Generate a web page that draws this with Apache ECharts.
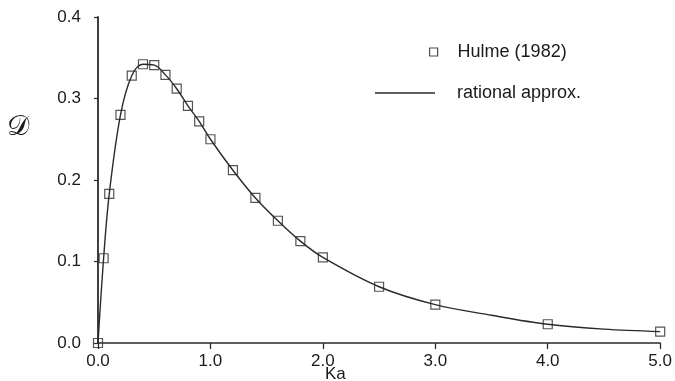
<!DOCTYPE html>
<html>
<head>
<meta charset="utf-8">
<script src="https://cdn.jsdelivr.net/npm/echarts@6/dist/echarts.min.js"></script>
<style>
html,body{margin:0;padding:0;background:#fff;}
#chart{width:675px;height:381px;}
</style>
</head>
<body>
<div id="chart"></div>
<script>
// Hulme (1982) data points (Ka, D)
var hulmeKa = [0.0, 0.05, 0.1, 0.2, 0.3, 0.4, 0.5, 0.6, 0.7, 0.8, 0.9, 1.0, 1.2, 1.4, 1.6, 1.8, 2.0, 2.5, 3.0, 4.0, 5.0];
var hulmeD  = [0.0, 0.104, 0.183, 0.280, 0.328, 0.342, 0.341, 0.329, 0.312, 0.291, 0.272, 0.250, 0.212, 0.178, 0.150, 0.125, 0.105, 0.069, 0.047, 0.023, 0.014];

// rational approximation curve
var curveKa = [0.0, 0.05, 0.1, 0.2, 0.3, 0.4, 0.5, 0.6, 0.7, 0.8, 0.9, 1.0, 1.2, 1.4, 1.6, 1.8, 2.0, 2.5, 3.0, 3.5, 4.0, 4.5, 5.0];
var curveD  = [0.0, 0.104, 0.183, 0.280, 0.328, 0.342, 0.341, 0.329, 0.312, 0.291, 0.272, 0.250, 0.212, 0.178, 0.150, 0.125, 0.105, 0.069, 0.047, 0.034, 0.023, 0.017, 0.014];

var xTicks = [0, 1, 2, 3, 4, 5];
var yTicks = [0, 0.1, 0.2, 0.3, 0.4];

var seriesNames = ['Hulme (1982)', 'rational approx.'];
var xTitle = 'Ka';
var yTitle = '\uD835\uDC9F';

function pairs(xs, ys){ return xs.map(function(x,i){ return [x, ys[i]]; }); }

var chart = echarts.init(document.getElementById('chart'), null, {renderer:'canvas'});
var font = 'Liberation Sans, Arial, Helvetica, sans-serif';
chart.setOption({
  animation:false,
  backgroundColor:'#fff',
  grid:{left:98, right:12, top:17, bottom:38, containLabel:false},
  xAxis:{
    type:'value', min:xTicks[0], max:xTicks[xTicks.length-1], interval:1,
    axisLine:{show:true, onZero:false, lineStyle:{color:'#2a2a2a', width:1.5}},
    axisTick:{show:true, inside:false, length:6, lineStyle:{color:'#2a2a2a', width:1.3}},
    axisLabel:{formatter:function(v){return v.toFixed(1);}, fontSize:17, color:'#1a1a1a', fontFamily:font, margin:10},
    splitLine:{show:false}
  },
  yAxis:{
    type:'value', min:yTicks[0], max:yTicks[yTicks.length-1], interval:0.1,
    axisLine:{show:true, onZero:false, lineStyle:{color:'#2a2a2a', width:1.8}},
    axisTick:{show:true, inside:false, length:4, lineStyle:{color:'#2a2a2a', width:1.2}},
    axisLabel:{formatter:function(v){return v.toFixed(1);}, fontSize:17, color:'#1a1a1a', fontFamily:font, margin:17},
    splitLine:{show:false}
  },
  legend:[
    {
      data:[seriesNames[0]], left:429, top:43, padding:0, itemWidth:8, itemHeight:8,
      itemStyle:{color:'rgba(0,0,0,0)', borderColor:'#222', borderWidth:1.2},
      textStyle:{fontSize:18, color:'#1a1a1a', fontFamily:font, padding:[0,0,0,15]}
    },
    {
      data:[seriesNames[1]], left:375, top:84, padding:0, itemWidth:60, itemHeight:1.5, icon:'rect',
      itemStyle:{color:'#2a2a2a', borderWidth:0},
      textStyle:{fontSize:18, color:'#1a1a1a', fontFamily:font, padding:[0,0,0,17]}
    }
  ],
  graphic:[
    {type:'text', left:325, top:366, style:{text:xTitle, fill:'#1a1a1a', font:'17px Liberation Sans, Arial, sans-serif'}},
    {type:'text', left:7, top:114, style:{text:yTitle, fill:'#1a1a1a', font:'28px DejaVu Serif, serif'}}
  ],
  series:[
    {
      name:seriesNames[1], type:'line', data:pairs(curveKa, curveD), smooth:0.35,
      symbol:'none', showSymbol:false,
      lineStyle:{color:'#2a2a2a', width:1.4},
      itemStyle:{color:'#2a2a2a'}, z:2
    },
    {
      name:seriesNames[0], type:'scatter', data:pairs(hulmeKa, hulmeD),
      symbol:'rect', symbolSize:9,
      itemStyle:{color:'rgba(0,0,0,0)', borderColor:'#2a2a2a', borderWidth:1.2}, z:3
    }
  ]
});
</script>
</body>
</html>
